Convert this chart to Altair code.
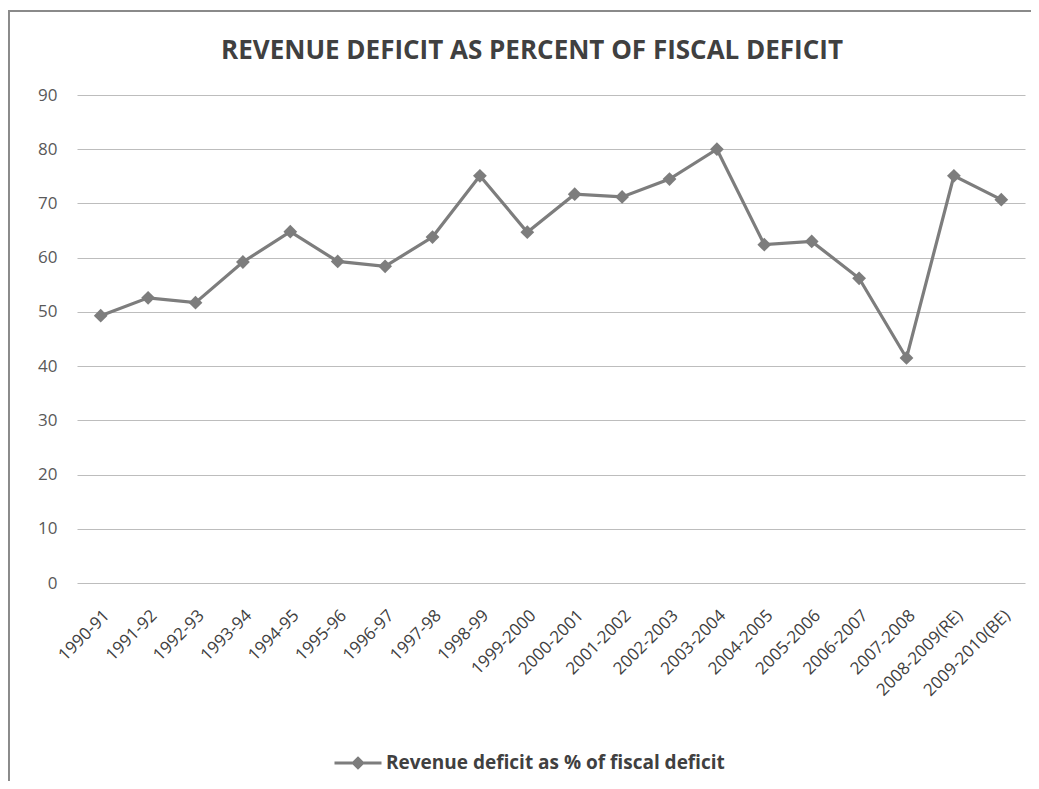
import altair as alt
import pandas as pd

years = ["1990-91", "1991-92", "1992-93", "1993-94", "1994-95", "1995-96", "1996-97",
         "1997-98", "1998-99", "1999-2000", "2000-2001", "2001-2002", "2002-2003",
         "2003-2004", "2004-2005", "2005-2006", "2006-2007", "2007-2008",
         "2008-2009(RE)", "2009-2010(BE)"]
values = [49.3, 52.6, 51.7, 59.2, 64.8, 59.3, 58.4, 63.8, 75.1, 64.7,
          71.7, 71.2, 74.5, 80.0, 62.4, 63.0, 56.2, 41.5, 75.1, 70.7]
series_name = "Revenue deficit as % of fiscal deficit"
y_ticks = [0, 10, 20, 30, 40, 50, 60, 70, 80, 90]

df = pd.DataFrame({"year": years, "value": values, "series": series_name})

FONT = "Open Sans"
GRAY = "#7d7d7d"

legend_path = "M-1,0L1,0M0,-0.2L0.2,0L0,0.2L-0.2,0Z"

base = alt.Chart(df).encode(
    x=alt.X("year:N", sort=years, title=None,
            scale=alt.Scale(paddingInner=0, paddingOuter=0.5),
            axis=alt.Axis(labelAngle=-45, labelFontSize=17, labelColor="#404040",
                          labelFont=FONT, ticks=False, domain=False, grid=False,
                          labelPadding=24, labelOverlap=False, labelLimit=0)),
    y=alt.Y("value:Q", title=None,
            scale=alt.Scale(domain=[0, 90], nice=False),
            axis=alt.Axis(values=y_ticks, labelFontSize=17, labelColor="#595959",
                          labelFont=FONT, ticks=False, domain=False,
                          labelPadding=20, gridColor="#bdbdbd", gridWidth=1.2)),
    color=alt.Color("series:N", scale=alt.Scale(range=[GRAY]),
                    legend=alt.Legend(title=None, orient="none", legendX=256, legendY=643,
                                      symbolType=legend_path, symbolSize=2209,
                                      symbolStrokeWidth=3, symbolFillColor=GRAY,
                                      labelFontSize=19, labelFont=FONT, labelLimit=0,
                                      labelOffset=3,
                                      labelColor="#404040", labelFontWeight="bold")),
)

line = base.mark_line(strokeWidth=3.2)
pts = base.mark_point(shape="diamond", filled=True, size=190, opacity=1)

frame_top = alt.Chart(df).mark_rule(color="#8a8a8a", strokeWidth=1.5).encode(
    x=alt.value(-69), x2=alt.value(960), y=alt.value(-84))
frame_left = alt.Chart(df).mark_rule(color="#8a8a8a", strokeWidth=1.5).encode(
    x=alt.value(-68.5), y=alt.value(-84), y2=alt.value(700))

chart = (frame_top + frame_left + line + pts).properties(
    width=948, height=488,
    title=alt.TitleParams("REVENUE DEFICIT AS PERCENT OF FISCAL DEFICIT",
                          fontSize=26, font=FONT, fontWeight="bold",
                          color="#404040", anchor="middle", offset=28, dx=-19, dy=82),
    padding={"left": 69, "top": 87, "right": 6, "bottom": 198},
    autosize=alt.AutoSizeParams(type="none"),
).configure(background="white").configure_view(stroke=None)

chart.save("out.html", embed_options={"renderer": "svg", "actions": False})
